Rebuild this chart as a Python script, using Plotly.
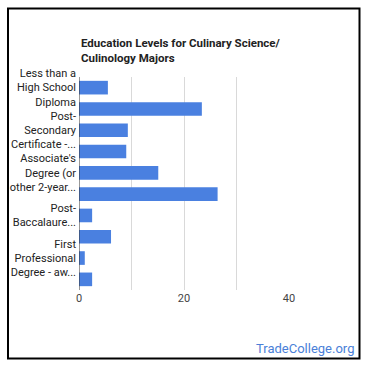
import plotly.graph_objects as go

categories = [
    "Less than a High School Diploma",
    "High School Diploma",
    "Post-Secondary Certificate - awarded for training completed after high school",
    "Some College Courses",
    "Associate's Degree (or other 2-year degree)",
    "Bachelor's Degree",
    "Post-Baccalaureate Certificate",
    "Master's Degree",
    "First Professional Degree - awarded for completion of a program",
    "Doctoral Degree",
]
values = [5.5, 23.4, 9.3, 9.0, 15.1, 26.4, 2.5, 6.1, 1.1, 2.5]

shown_ticks = [categories[0], categories[2], categories[4], categories[6], categories[8]]
shown_text = [
    "Less than a<br>High School<br>Diploma",
    "Post-<br>Secondary<br>Certificate -...",
    "Associate's<br>Degree (or<br>other 2-year...",
    "Post-<br>Baccalaure...",
    "First<br>Professional<br>Degree - aw...",
]
x_ticks = [0, 20, 40]

W, H = 370, 370
L, R, T, B = 79, 81, 77, 80
pw, ph = W - L - R, H - T - B

def px(x):
    return (x - L) / pw

def py(y):
    return (H - B - y) / ph

fig = go.Figure(go.Bar(
    x=values, y=categories, orientation="h",
    marker=dict(color="#4a80e0", line=dict(width=0)),
    hoverinfo="x+y",
))

fig.update_layout(
    width=W, height=H,
    margin=dict(l=L, r=R, t=T, b=B, autoexpand=False),
    paper_bgcolor="white", plot_bgcolor="white",
    font=dict(family="Roboto, Arial, sans-serif", size=11, color="#222"),
    bargap=0.36,
    showlegend=False,
    xaxis=dict(
        range=[0, 40], tickvals=x_ticks, ticktext=[str(v) for v in x_ticks],
        showgrid=True, gridcolor="#d9d9d9", gridwidth=1,
        minor=dict(dtick=10, tick0=0, showgrid=True, gridcolor="#d9d9d9", gridwidth=1),
        zeroline=False, showline=False, ticks="",
        tickfont=dict(size=11, color="#444"),
        automargin=False,
        fixedrange=True,
    ),
    yaxis=dict(
        categoryorder="array", categoryarray=categories, autorange="reversed",
        tickvals=shown_ticks, ticktext=shown_text,
        showgrid=False, zeroline=False, showline=False, ticks="",
        ticklabelstandoff=2,
        tickfont=dict(size=11, color="#222"),
        automargin=False,
        fixedrange=True,
    ),
    shapes=[
        dict(type="line", xref="x", yref="paper", x0=0, x1=0, y0=0, y1=1,
             line=dict(color="#333", width=1)),
        dict(type="rect", xref="paper", yref="paper",
             x0=px(8), x1=px(359.5), y0=py(358.5), y1=py(8.5),
             line=dict(color="black", width=2), fillcolor="rgba(0,0,0,0)"),
    ],
    annotations=[
        dict(text="<b>Education Levels for Culinary Science/<br>Culinology Majors</b>",
             xref="paper", yref="paper", x=0, y=py(34), xanchor="left", yanchor="top",
             align="left", showarrow=False,
             font=dict(size=11.5, color="#222")),
        dict(text="TradeCollege.org", xref="paper", yref="paper",
             x=px(356), y=py(348), xanchor="right", yanchor="middle",
             showarrow=False, font=dict(size=13, color="#4a7fd8")),
    ],
)

fig.write_html("out.html", config={"displayModeBar": False},
               post_script="document.body.style.margin='0';")
